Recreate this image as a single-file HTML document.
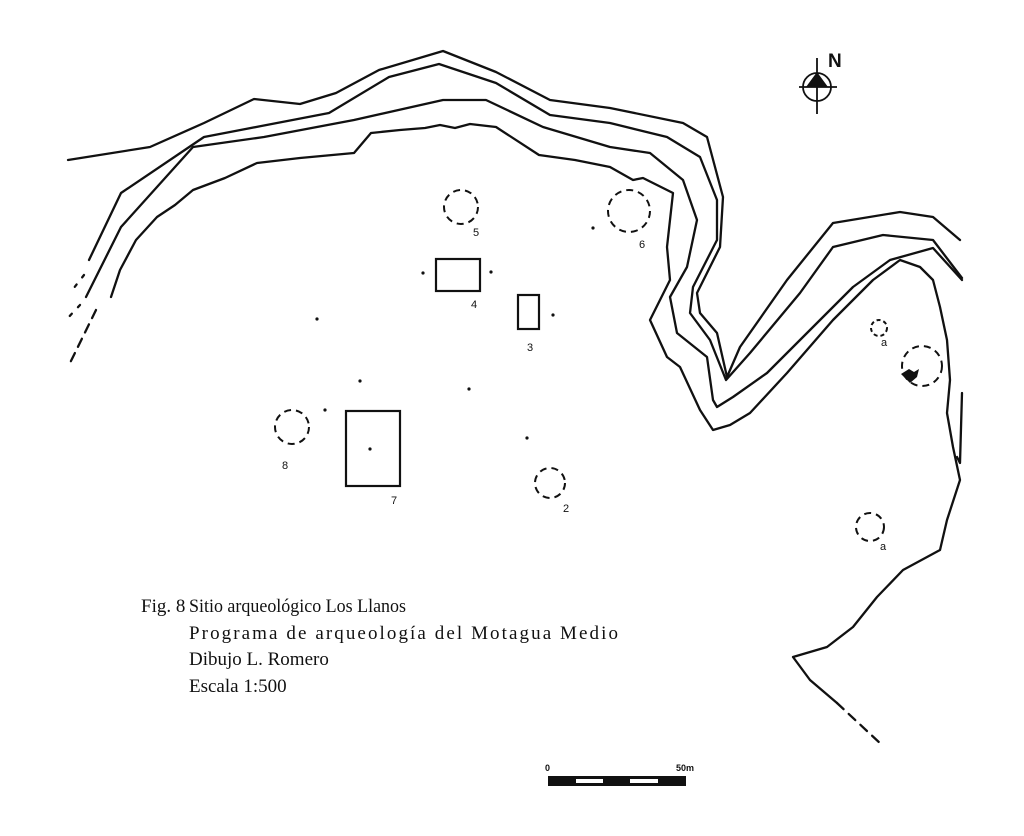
<!DOCTYPE html>
<html><head><meta charset="utf-8"><style>
html,body{margin:0;padding:0;background:#fff;}
svg{display:block;}
text{font-family:"Liberation Serif",serif;fill:#111;}
.s{font-family:"Liberation Sans",sans-serif;}
</style></head><body>
<svg width="1024" height="836" viewBox="0 0 1024 836" xmlns="http://www.w3.org/2000/svg">
<rect width="1024" height="836" fill="#fff"/>
<g fill="none" stroke="#111" stroke-width="2.3" stroke-linejoin="round" stroke-linecap="round">
<polyline points="68,160 150,147 204,123 254,99 300,104 336,93 379,70 443,51 496,72 550,100 610,108 683,123 707,137 723,197 720,247 697,293 700,313 717,333 727,377 740,347 787,280 833,223 900,212 933,217 960,240"/>
<polyline points="89,260 121,193 204,137 329,113 389,77 439,64 496,83 550,115 610,123 667,137 700,157 717,200 717,240 693,287 690,313 710,340 726,380 750,353 800,293 833,247 883,235 933,240 962,278"/>
<polyline points="86,297 121,227 193,147 264,137 354,120 443,100 486,100 543,127 610,147 650,153 683,180 697,220 687,267 670,297 677,333 707,357 713,400 717,407 733,397 767,373 807,333 853,287 890,260 933,248 962,280"/>
<polyline points="111,297 120,270 136,240 157,217 175,205 193,190 225,178 257,163 300,158 354,153 371,133 400,130 425,128 440,125 455,128 470,124 496,127 539,155 575,160 610,167 633,180 643,178 673,193 667,247 670,280 650,320 667,357 680,367 700,410 713,430 730,425 750,413 787,373 833,320 873,280 900,260 920,267 933,280 940,307 947,340 950,380 947,413 953,447 960,480 947,520 940,550 903,570 877,597 853,627 827,647 793,657 810,680 837,703"/>
<polyline points="962,393 960,463 957,457" />
<line x1="96" y1="310" x2="70" y2="363" stroke-dasharray="9,7"/>
<line x1="837" y1="703" x2="882" y2="745" stroke-dasharray="9,7"/>
<line x1="84" y1="275" x2="70" y2="293" stroke-dasharray="3,9"/>
<line x1="80" y1="305" x2="66" y2="320" stroke-dasharray="3,9"/>
</g>
<g fill="none" stroke="#111" stroke-width="2" stroke-dasharray="7,5">
<circle cx="461" cy="207" r="17"/>
<circle cx="629" cy="211" r="21"/>
<circle cx="292" cy="427" r="17"/>
<circle cx="550" cy="483" r="15"/>
<circle cx="879" cy="328" r="8" stroke-dasharray="4,3"/>
<circle cx="922" cy="366" r="20"/>
<circle cx="870" cy="527" r="14"/>
</g>
<g fill="none" stroke="#111" stroke-width="2.2">
<rect x="436" y="259" width="44" height="32"/>
<rect x="518" y="295" width="21" height="34"/>
<rect x="346" y="411" width="54" height="75"/>
</g>
<path d="M901,374 L909,369 L914,372 L919,369 L917,377 L910,383 Z" fill="#111"/>
<g fill="#111">
<circle cx="593" cy="228" r="1.6"/><circle cx="423" cy="273" r="1.6"/><circle cx="491" cy="272" r="1.6"/>
<circle cx="553" cy="315" r="1.6"/><circle cx="317" cy="319" r="1.6"/><circle cx="360" cy="381" r="1.6"/>
<circle cx="469" cy="389" r="1.6"/><circle cx="325" cy="410" r="1.6"/><circle cx="370" cy="449" r="1.6"/>
<circle cx="527" cy="438" r="1.6"/>
</g>
<g font-size="11">
<text class="s" x="473" y="236">5</text>
<text class="s" x="639" y="248">6</text>
<text class="s" x="471" y="308">4</text>
<text class="s" x="527" y="351">3</text>
<text class="s" x="282" y="469">8</text>
<text class="s" x="391" y="504">7</text>
<text class="s" x="563" y="512">2</text>
<text class="s" x="881" y="346">a</text>
<text class="s" x="880" y="550">a</text>
</g>
<g stroke="#111" stroke-width="1.8" fill="none">
<circle cx="817" cy="87" r="14"/>
<line x1="799" y1="87" x2="837" y2="87"/>
<line x1="817" y1="58" x2="817" y2="114"/>
</g>
<path d="M806,87 L817,72 L828,87 Z" fill="#111"/>
<text class="s" x="828" y="67" font-size="19" font-weight="bold">N</text>
<text x="141" y="612" font-size="19">Fig. 8</text>
<text x="189" y="612" font-size="19" textLength="217" lengthAdjust="spacingAndGlyphs">Sitio arqueológico Los Llanos</text>
<text x="189" y="639" font-size="19" textLength="429" lengthAdjust="spacing">Programa de arqueología del Motagua Medio</text>
<text x="189" y="665" font-size="19">Dibujo L. Romero</text>
<text x="189" y="692" font-size="19">Escala 1:500</text>
<rect x="548" y="776" width="138" height="10" fill="#111"/>
<rect x="576" y="779" width="27" height="4" fill="#fff"/>
<rect x="630" y="779" width="28" height="4" fill="#fff"/>
<text class="s" x="545" y="771" font-size="9" font-weight="bold">0</text>
<text class="s" x="676" y="771" font-size="9" font-weight="bold">50m</text>
</svg>
</body></html>
